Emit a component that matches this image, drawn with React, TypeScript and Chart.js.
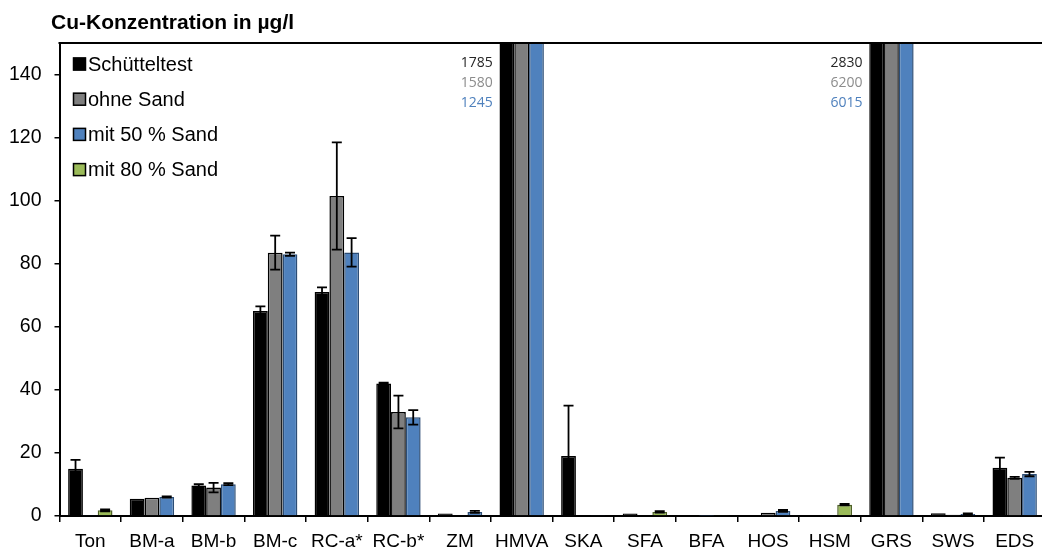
import React, { useEffect, useRef } from 'react';
import { Chart, registerables } from 'chart.js';

Chart.register(...registerables);

const categories = ['Ton', 'BM-a', 'BM-b', 'BM-c', 'RC-a*', 'RC-b*', 'ZM', 'HMVA', 'SKA', 'SFA', 'BFA', 'HOS', 'HSM', 'GRS', 'SWS', 'EDS'];

const seriesNames = ['Schütteltest', 'ohne Sand', 'mit 50 % Sand', 'mit 80 % Sand'];

const schuetteltest = [15, 5.5, 9.7, 65, 71, 42, 0.8, 1785, 19, 0.8, 0.2, 0.3, 0.2, 2830, 0.9, 15.3];
const ohneSand = [null, 5.8, 9.0, 83.5, 101.5, 33, 0.3, 1580, 0.2, null, null, 1.0, null, 6200, 0.4, 12.1];
const mit50Sand = [0.3, 6.0, 10.1, 83, 83.6, 31.3, 1.3, 1245, 0.3, 0.2, 0.05, 1.6, 0.3, 6015, 0.6, 13.3];
const mit80Sand = [1.8, null, null, null, null, null, null, null, null, 1.3, 0.3, null, 3.6, null, null, null];

const errSchuetteltest = [2.8, 0, 0.4, 1.5, 1.5, 0.3, 0, 0, 16, 0, 0, 0, 0, 0, 0, 3.2];
const errOhneSand = [0, 0, 1.5, 5.4, 17, 5.2, 0, 0, 0, 0, 0, 0, 0, 0, 0, 0.3];
const errMit50Sand = [0, 0.2, 0.3, 0.5, 4.5, 2.3, 0.3, 0, 0, 0, 0, 0.3, 0, 0, 0.2, 0.7];
const errMit80Sand = [0.3, 0, 0, 0, 0, 0, 0, 0, 0, 0.2, 0, 0, 0.2, 0, 0, 0];

// values of clipped bars written above the plot
const clippedLabels = [
  { index: 7, texts: ['1785', '1580', '1245'] },
  { index: 13, texts: ['2830', '6200', '6015'] },
];

const yMin = 0;
const yMax = 150;
const yStep = 20;

const fillColors = ['#000000', '#7F7F7F', '#4F81BD', '#9BBB59'];
const borderColors = ['#000000', '#000000', '#2C4D75', '#4F6228'];
const annotationColors = ['#262626', '#8C8C8C', '#4F81BD'];
const errors = [errSchuetteltest, errOhneSand, errMit50Sand, errMit80Sand];

const FONT = "'Liberation Sans', Arial, sans-serif";

const extrasPlugin = {
  id: 'extras',
  afterDatasetsDraw(chart: any) {
    const ctx = chart.ctx;
    const area = chart.chartArea;
    const yScale = chart.scales.y;
    ctx.save();
    ctx.beginPath();
    ctx.rect(area.left, area.top, area.right - area.left, area.bottom - area.top);
    ctx.clip();
    ctx.strokeStyle = '#000000';
    ctx.lineWidth = 1.8;
    chart.data.datasets.forEach((ds: any, di: number) => {
      const meta = chart.getDatasetMeta(di);
      meta.data.forEach((bar: any, i: number) => {
        const v = ds.data[i];
        const e = errors[di][i];
        if (v == null || !e) return;
        const x = bar.x;
        const yt = yScale.getPixelForValue(v + e);
        const yb = yScale.getPixelForValue(Math.max(0, v - e));
        ctx.beginPath();
        ctx.moveTo(x, yt);
        ctx.lineTo(x, yb);
        ctx.moveTo(x - 5, yt);
        ctx.lineTo(x + 5, yt);
        ctx.moveTo(x - 5, yb);
        ctx.lineTo(x + 5, yb);
        ctx.stroke();
      });
    });
    ctx.restore();
  },
  afterDraw(chart: any) {
    const ctx = chart.ctx;
    const area = chart.chartArea;
    const xScale = chart.scales.x;
    ctx.save();
    ctx.strokeStyle = '#000000';
    ctx.lineWidth = 2;
    ctx.beginPath();
    ctx.moveTo(area.left - 1, area.top);
    ctx.lineTo(chart.width, area.top);
    ctx.stroke();

    ctx.fillStyle = '#000000';
    ctx.font = `bold 21px ${FONT}`;
    ctx.textAlign = 'left';
    ctx.textBaseline = 'alphabetic';
    ctx.fillText('Cu-Konzentration in µg/l', 51, 28.5);

    ctx.font = `20px ${FONT}`;
    ctx.textBaseline = 'middle';
    seriesNames.forEach((name, i) => {
      const cy = 64 + i * 35.2;
      ctx.fillStyle = fillColors[i];
      ctx.fillRect(73, cy - 6.5, 13, 13);
      ctx.strokeStyle = '#000000';
      ctx.lineWidth = 1.5;
      ctx.strokeRect(73.5, cy - 6, 12, 12);
      ctx.fillStyle = '#000000';
      ctx.fillText(name, 88, cy + 1);
    });

    const catW = xScale.width / categories.length;
    ctx.font = `14px 'Open Sans', sans-serif`;
    ctx.textAlign = 'right';
    clippedLabels.forEach((c) => {
      const xr = xScale.getPixelForValue(c.index) - catW / 2 + 2;
      c.texts.forEach((t, k) => {
        ctx.fillStyle = annotationColors[k];
        ctx.fillText(t, xr, 63.5 + k * 19.8);
      });
    });
    ctx.restore();
  },
};

export default function App() {
  const ref = useRef<HTMLCanvasElement | null>(null);

  useEffect(() => {
    document.body.style.margin = '0';
    const canvas = ref.current;
    if (!canvas) return;
    const dataSets = [schuetteltest, ohneSand, mit50Sand, mit80Sand];
    const chart = new Chart(canvas, {
      type: 'bar',
      data: {
        labels: categories,
        datasets: dataSets.map((d, i) => ({
          label: seriesNames[i],
          data: d as any,
          backgroundColor: fillColors[i],
          borderColor: borderColors[i],
          borderWidth: 1.5,
          categoryPercentage: 0.72,
          barPercentage: 1.0,
          skipNull: true,
        })),
      },
      options: {
        animation: false,
        responsive: false,
        devicePixelRatio: 1,
        layout: { padding: { top: 43, right: 2.5, bottom: 0, left: 0 } },
        plugins: {
          legend: { display: false },
          title: { display: false },
          tooltip: { enabled: false },
        },
        scales: {
          x: {
            grid: {
              offset: true,
              drawOnChartArea: false,
              drawTicks: true,
              tickLength: 6,
              color: '#000000',
              lineWidth: 1.5,
            },
            border: { display: true, color: '#000000', width: 2 },
            ticks: {
              color: '#000000',
              font: { family: FONT, size: 19 },
              padding: 8,
              maxRotation: 0,
              autoSkip: false,
            },
            afterFit: (s: any) => {
              s.height = 34;
            },
          },
          y: {
            min: yMin,
            max: yMax,
            grid: {
              drawOnChartArea: false,
              drawTicks: true,
              tickLength: 5,
              color: '#000000',
              lineWidth: 1.5,
            },
            border: { display: true, color: '#000000', width: 2 },
            ticks: {
              stepSize: yStep,
              includeBounds: false,
              color: '#000000',
              font: { family: FONT, size: 19.5 },
              padding: 13,
            },
            afterFit: (s: any) => {
              s.width = 59.5;
            },
          },
        },
      },
      plugins: [extrasPlugin],
    });
    return () => chart.destroy();
  }, []);

  return (
    <div style={{ width: 1042, height: 550, overflow: 'hidden', position: 'relative', background: '#ffffff' }}>
      <canvas ref={ref} width={1048} height={550} style={{ display: 'block', width: 1048, height: 550 }} />
    </div>
  );
}
